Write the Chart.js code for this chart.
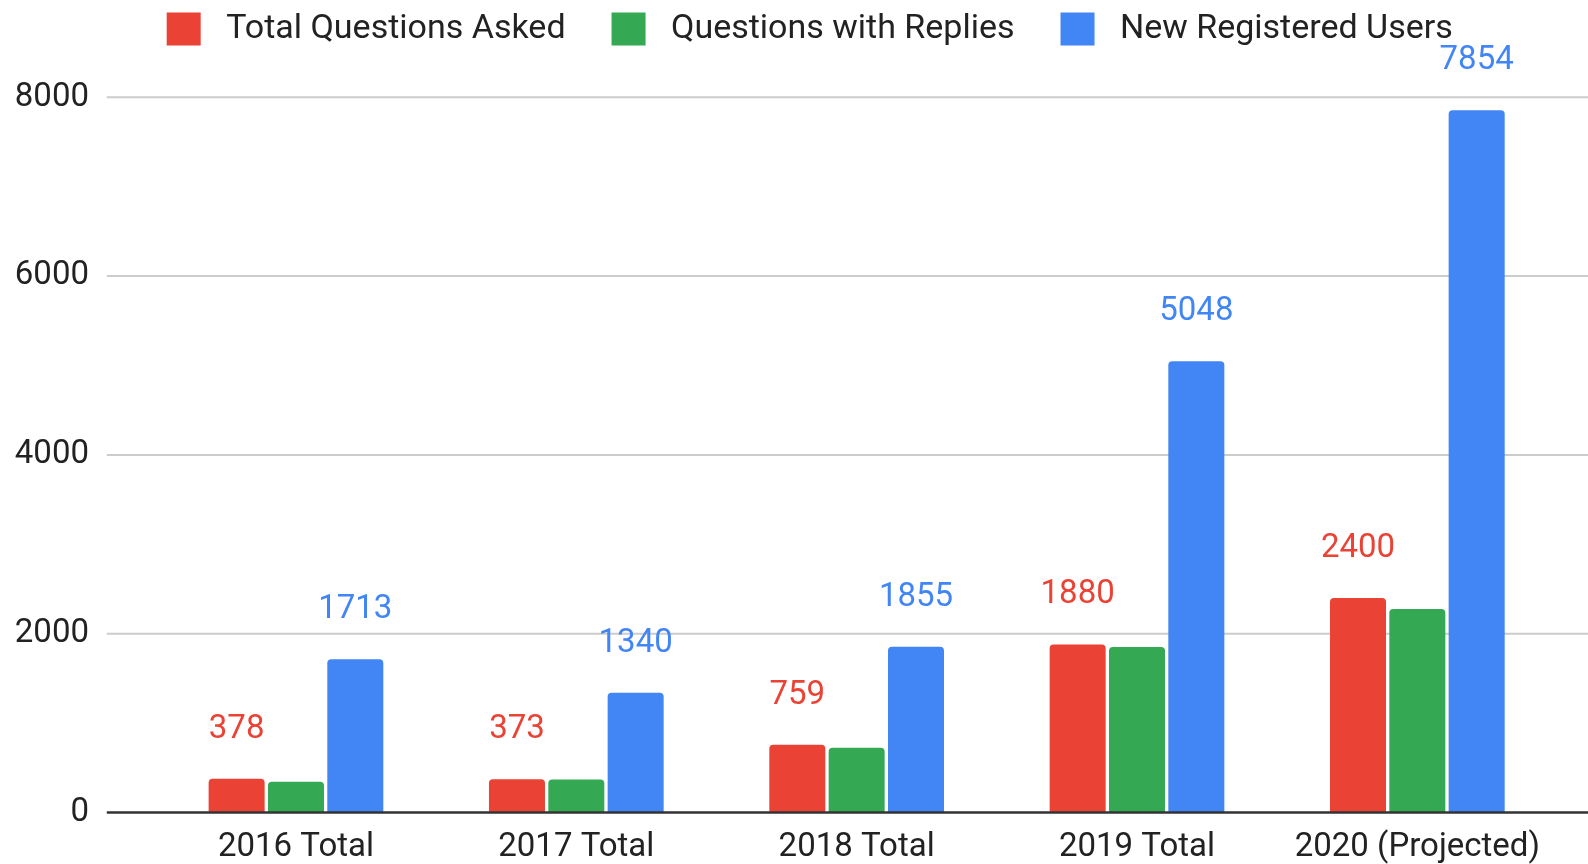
<!DOCTYPE html>
<html>
<head>
<meta charset="utf-8">
<title>Questions and Users</title>
<script src="https://cdn.jsdelivr.net/npm/chart.js@4"></script>
<style>
  html, body { margin: 0; padding: 0; background: #fff; }
  #wrap { width: 1588px; height: 864px; position: relative; }
</style>
</head>
<body>
<div id="wrap"><canvas id="questionsChart"></canvas></div>
<script>
// Dados
const categories = ['2016 Total', '2017 Total', '2018 Total', '2019 Total', '2020 (Projected)'];
const seriesNames = ['Total Questions Asked', 'Questions with Replies', 'New Registered Users'];
const questionsAsked = [378, 373, 759, 1880, 2400];
const questionsReplied = [345, 368, 725, 1850, 2275];
const newUsers = [1713, 1340, 1855, 5048, 7854];
const yTicks = [0, 2000, 4000, 6000, 8000];

const RED = '#ea4335';
const GREEN = '#34a853';
const BLUE = '#4285f4';
const FONT = 'Roboto';

Chart.defaults.font.family = FONT;
Chart.defaults.font.size = 33;
Chart.defaults.color = '#222222';

// linhas de grade que passam do eixo até a borda direita
const gridPlugin = {
    id: 'gridPlugin',
    beforeDatasetsDraw(chart) {
        const y = chart.scales.y;
        const ctx = chart.ctx;
        const left = chart.chartArea.left - 49;
        ctx.save();
        ctx.strokeStyle = '#cccccc';
        ctx.lineWidth = 2;
        yTicks.forEach(v => {
            if (v === 0) return;
            const py = y.getPixelForValue(v);
            ctx.beginPath();
            ctx.moveTo(left, py);
            ctx.lineTo(chart.width, py);
            ctx.stroke();
        });
        ctx.restore();
    },
    afterDatasetsDraw(chart) {
        const y = chart.scales.y;
        const ctx = chart.ctx;
        const py = y.getPixelForValue(0);
        ctx.save();
        ctx.strokeStyle = '#333333';
        ctx.lineWidth = 2.5;
        ctx.beginPath();
        ctx.moveTo(chart.chartArea.left - 49, py);
        ctx.lineTo(chart.width, py);
        ctx.stroke();
        ctx.restore();
    }
};

// rótulos de valor acima das barras vermelhas e azuis
const valueLabels = {
    id: 'valueLabels',
    afterDatasetsDraw(chart) {
        const ctx = chart.ctx;
        ctx.save();
        ctx.font = '33px ' + FONT;
        ctx.textAlign = 'center';
        ctx.textBaseline = 'alphabetic';
        chart.data.datasets.forEach((ds, i) => {
            if (!ds.showValues) return;
            const meta = chart.getDatasetMeta(i);
            ctx.fillStyle = ds.backgroundColor;
            meta.data.forEach((bar, j) => {
                ctx.fillText(String(ds.data[j]), bar.x, bar.y - 41);
            });
        });
        ctx.restore();
    }
};

// altura fixa da legenda, desenhada um pouco mais acima e à direita
const legendTweak = {
    id: 'legendTweak',
    beforeInit(chart) {
        const legend = chart.legend;
        const fit = legend.fit;
        legend.fit = function () {
            fit.call(legend);
            this.height = 97.3;
        };
        const draw = legend.draw;
        legend.draw = function () {
            const c = this.ctx;
            c.save();
            c.translate(31, -34);
            draw.call(legend);
            c.restore();
        };
    }
};

const ctx = document.getElementById('questionsChart').getContext('2d');
new Chart(ctx, {
    type: 'bar',
    data: {
        labels: categories,
        datasets: [{
            label: seriesNames[0],
            data: questionsAsked,
            backgroundColor: RED,
            showValues: true
        }, {
            label: seriesNames[1],
            data: questionsReplied,
            backgroundColor: GREEN,
            showValues: false
        }, {
            label: seriesNames[2],
            data: newUsers,
            backgroundColor: BLUE,
            showValues: true
        }]
    },
    options: {
        responsive: true,
        maintainAspectRatio: false,
        animation: false,
        layout: { padding: { top: 0, right: 30.5, bottom: 0, left: 0 } },
        datasets: {
            bar: {
                categoryPercentage: 0.635,
                barPercentage: 0.944,
                borderRadius: { topLeft: 4, topRight: 4 },
                borderSkipped: 'bottom'
            }
        },
        plugins: {
            legend: {
                position: 'top',
                labels: {
                    boxWidth: 34,
                    boxHeight: 33,
                    padding: 46,
                    color: '#222222',
                    font: { size: 34 },
                    generateLabels(chart) {
                        const items = Chart.defaults.plugins.legend.labels.generateLabels(chart);
                        items.forEach(it => { it.text = ' ' + it.text; it.lineWidth = 0; });
                        return items;
                    }
                }
            },
            tooltip: { enabled: false }
        },
        scales: {
            x: {
                grid: { display: false, drawTicks: false },
                border: { display: false },
                ticks: { padding: 15, color: '#222222', font: { size: 33 } },
                afterFit(scale) { scale.height = 51.5; }
            },
            y: {
                min: 0,
                max: 8000,
                grid: { display: false, drawTicks: false },
                border: { display: false },
                ticks: {
                    stepSize: 2000,
                    padding: 66.8,
                    color: '#222222',
                    font: { size: 33 },
                    callback: value => String(value)
                },
                afterFit(scale) {
                    scale.width = 155.8;
                    // o padding dos rótulos não deve encolher a área vertical
                    scale.paddingTop = 20;
                    scale.paddingBottom = 20;
                }
            }
        }
    },
    plugins: [gridPlugin, valueLabels, legendTweak]
});
</script>
</body>
</html>
